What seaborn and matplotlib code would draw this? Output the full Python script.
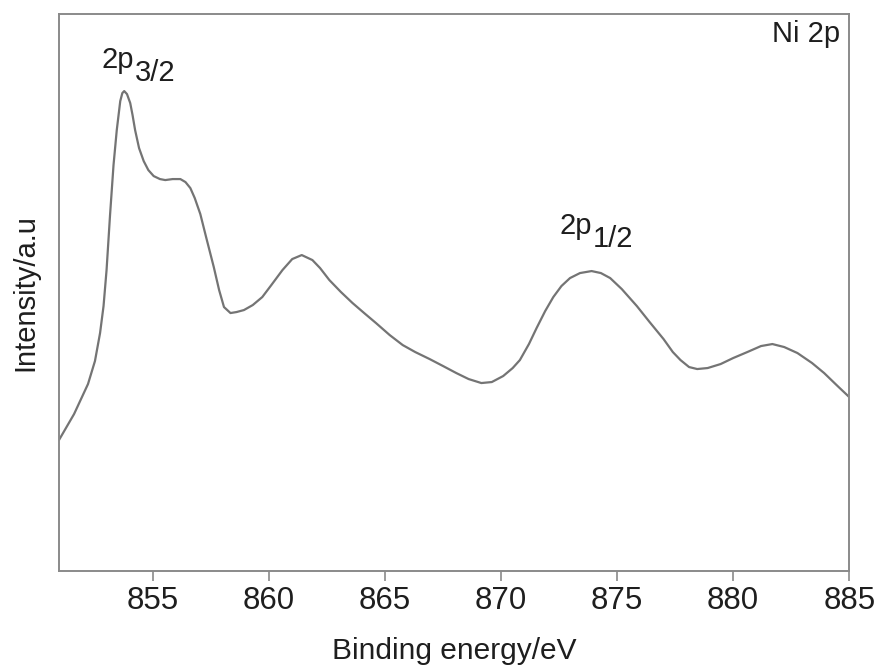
import numpy as np
import pandas as pd
import matplotlib
matplotlib.use("Agg")
import matplotlib.pyplot as plt
import seaborn as sns

# Ni 2p XPS spectrum (binding energy in eV, intensity in arbitrary units)
binding_energy = [
    850.95, 851.6, 852.2, 852.5, 852.72, 852.87, 853.0, 853.15, 853.3, 853.44,
    853.59, 853.68, 853.76, 853.88, 854.02, 854.12, 854.23, 854.4, 854.6, 854.8,
    855.03, 855.3, 855.53, 855.85, 856.18, 856.4, 856.61, 856.8, 857.04, 857.3,
    857.62, 857.85, 858.06, 858.34, 858.6, 858.92, 859.3, 859.71, 860.1, 860.58,
    861.0, 861.41, 861.87, 862.2, 862.6, 863.1, 863.6, 864.1, 864.61, 865.2,
    865.76, 866.3, 866.92, 867.5, 868.07, 868.6, 869.15, 869.6, 870.09, 870.5,
    870.81, 871.2, 871.53, 871.9, 872.25, 872.6, 872.97, 873.4, 873.9, 874.3,
    874.7, 875.2, 875.85, 876.4, 877.0, 877.4, 877.73, 878.1, 878.45, 878.9,
    879.46, 880.0, 880.61, 881.2, 881.69, 882.2, 882.77, 883.4, 883.92, 884.5,
    885.0,
]
intensity = [
    131, 157, 187, 210, 238, 265, 301, 356, 406, 441,
    470, 478, 480, 477, 468, 456, 441, 423, 410, 401,
    395, 392, 391, 392, 392, 389, 383, 373, 357, 333,
    304, 281, 264, 258, 259, 261, 266, 274, 286, 301,
    312, 316, 311, 303, 291, 279, 268, 258, 248, 236,
    226, 219, 212, 205, 198, 192, 188, 189, 195, 203,
    211, 227, 243, 260, 274, 285, 293, 298, 300, 298,
    293, 282, 265, 249, 232, 219, 211, 204, 202, 203,
    207, 213, 219, 225, 227, 224, 218, 208, 198, 185,
    174,
]

x_ticks = [855, 860, 865, 870, 875, 880, 885]
x_limits = (850.93, 885.0)
y_limits = (0, 557)

peak_labels = [("2p", "3/2", 854.2, 503), ("2p", "1/2", 873.91, 337)]
region_label = "Ni 2p"

df = pd.DataFrame({"Binding energy/eV": binding_energy, "Intensity/a.u": intensity})

sns.set_theme(style="white")
plt.rcParams["font.family"] = ["Liberation Sans", "DejaVu Sans"]

fig = plt.figure(figsize=(8.8, 6.71), dpi=100)
ax = fig.add_axes([0.0665, 0.149, 0.8985, 0.830])

sns.lineplot(data=df, x="Binding energy/eV", y="Intensity/a.u", ax=ax,
             color="#747474", linewidth=1.6, sort=False)

ax.set_xlim(*x_limits)
ax.set_ylim(*y_limits)
ax.set_xticks(x_ticks)
ax.set_yticks([])

for side in ["left", "right", "top", "bottom"]:
    ax.spines[side].set_visible(True)
    ax.spines[side].set_color("#8a8a8a")
    ax.spines[side].set_linewidth(1.4)

ax.tick_params(axis="x", direction="out", length=7, width=1.2, color="#8a8a8a",
               labelsize=22.5, labelcolor="#1e1e1e", pad=4, bottom=True)

ax.set_xlabel("Binding energy/eV", fontsize=21.5, color="#1e1e1e", labelpad=15)
ax.set_ylabel("Intensity/a.u", fontsize=21, color="#1e1e1e", labelpad=14)

# Spin-orbit peak labels: main text plus a full-size lowered subscript
for main, sub, ex, iy in peak_labels:
    ax.text(ex, iy, main, fontsize=21, color="#1e1e1e", ha="right", va="baseline")
    ax.annotate(sub, xy=(ex, iy), xytext=(0.5, -9), textcoords="offset points",
                fontsize=21, color="#1e1e1e", ha="left", va="baseline")

ax.text(884.6, 529, region_label, fontsize=21, color="#1e1e1e",
        ha="right", va="baseline")

fig.savefig("out.png", dpi=100, facecolor="white")
